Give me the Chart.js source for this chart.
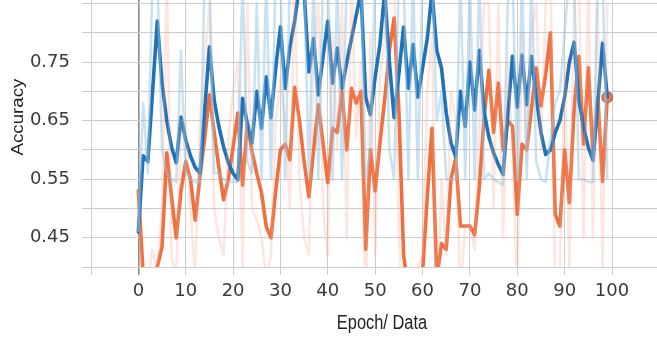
<!DOCTYPE html>
<html>
<head>
<meta charset="utf-8">
<script src="https://cdn.jsdelivr.net/npm/chart.js@4/dist/chart.umd.min.js"></script>
<style>
  html, body { margin: 0; padding: 0; background: #ffffff; }
  #wrap { width: 657px; height: 337px; position: relative; }
  canvas { display: block; }
</style>
</head>
<body>
<div id="wrap"><canvas id="c" width="657" height="337" style="width:657px;height:337px"></canvas></div>
<script>
// ---- data ----
const epochs = Array.from({ length: 100 }, (_, i) => i);

const xTickLabels = [0, 10, 20, 30, 40, 50, 60, 70, 80, 90, 100];
const yTickLabels = ['0.45', '0.55', '0.65', '0.75'];
const xTitle = 'Epoch/ Data';
const yTitle = 'Accuracy';

// smoothed (dark blue)
const blueSmooth = [
  0.46, 0.59, 0.58, 0.70, 0.82, 0.714, 0.65, 0.605, 0.578, 0.656,
  0.617, 0.59, 0.57, 0.56, 0.668, 0.776, 0.685, 0.64, 0.605, 0.578,
  0.56, 0.549, 0.688, 0.645, 0.612, 0.70, 0.637, 0.725, 0.655, 0.74,
  0.81, 0.705, 0.776, 0.82, 0.88, 0.87, 0.733, 0.79, 0.694, 0.76,
  0.82, 0.714, 0.774, 0.705, 0.75, 0.79, 0.83, 0.87, 0.69, 0.66,
  0.725, 0.78, 0.87, 0.75, 0.655, 0.73, 0.81, 0.705, 0.78, 0.69,
  0.74, 0.79, 0.87, 0.77, 0.74, 0.663, 0.612, 0.588, 0.70, 0.64,
  0.75, 0.668, 0.77, 0.665, 0.622, 0.595, 0.575, 0.558, 0.66, 0.76,
  0.673, 0.762, 0.677, 0.76, 0.69, 0.63, 0.592, 0.60, 0.629, 0.65,
  0.69, 0.75, 0.784, 0.685, 0.64, 0.604, 0.582, 0.68, 0.782, 0.69
];

// smoothed (orange)
const orangeSmooth = [
  0.53, 0.39, 0.385, 0.39, 0.40, 0.435, 0.595, 0.52, 0.45, 0.53,
  0.58, 0.55, 0.48, 0.554, 0.62, 0.694, 0.63, 0.57, 0.515, 0.55,
  0.605, 0.663, 0.54, 0.645, 0.597, 0.56, 0.527, 0.469, 0.45, 0.53,
  0.60, 0.61, 0.583, 0.707, 0.65, 0.58, 0.52, 0.60, 0.677, 0.61,
  0.544, 0.637, 0.63, 0.70, 0.60, 0.705, 0.68, 0.70, 0.43, 0.60,
  0.53, 0.612, 0.685, 0.77, 0.825, 0.668, 0.42, 0.36, 0.35, 0.37,
  0.39, 0.52, 0.637, 0.38, 0.44, 0.43, 0.55, 0.585, 0.47, 0.47,
  0.47, 0.455, 0.538, 0.656, 0.736, 0.63, 0.714, 0.60, 0.65, 0.64,
  0.49, 0.61, 0.60, 0.67, 0.74, 0.675, 0.73, 0.80, 0.49, 0.47,
  0.60, 0.51, 0.67, 0.76, 0.61, 0.74, 0.59, 0.69, 0.546, 0.69
];

// raw (faint blue)
const blueRaw = [
  0.46, 0.68, 0.56, 0.90, 0.90, 0.60, 0.56, 0.55, 0.545, 0.77,
  0.56, 0.55, 0.545, 0.545, 0.90, 0.90, 0.56, 0.56, 0.55, 0.545,
  0.545, 0.545, 0.90, 0.58, 0.56, 0.85, 0.55, 0.90, 0.55, 0.90,
  0.90, 0.55, 0.90, 0.90, 0.90, 0.90, 0.55, 0.90, 0.55, 0.90,
  0.90, 0.55, 0.90, 0.55, 0.90, 0.90, 0.90, 0.90, 0.55, 0.60,
  0.90, 0.90, 0.90, 0.60, 0.55, 0.90, 0.90, 0.55, 0.90, 0.55,
  0.90, 0.90, 0.90, 0.65, 0.70, 0.55, 0.55, 0.55, 0.90, 0.55,
  0.90, 0.55, 0.90, 0.55, 0.56, 0.55, 0.545, 0.54, 0.85, 0.90,
  0.55, 0.90, 0.55, 0.90, 0.58, 0.55, 0.545, 0.62, 0.68, 0.70,
  0.80, 0.90, 0.90, 0.55, 0.55, 0.545, 0.545, 0.90, 0.90, 0.55
];

// raw (faint orange)
const orangeRaw = [
  0.53, 0.30, 0.38, 0.43, 0.39, 0.50, 0.90, 0.42, 0.38, 0.65,
  0.65, 0.50, 0.38, 0.65, 0.75, 0.85, 0.50, 0.45, 0.42, 0.62,
  0.70, 0.75, 0.40, 0.85, 0.50, 0.48, 0.45, 0.38, 0.42, 0.65,
  0.72, 0.65, 0.50, 0.90, 0.55, 0.45, 0.42, 0.75, 0.85, 0.50,
  0.42, 0.80, 0.60, 0.85, 0.45, 0.90, 0.62, 0.75, 0.30, 0.80,
  0.42, 0.72, 0.80, 0.90, 0.90, 0.45, 0.30, 0.30, 0.33, 0.40,
  0.42, 0.70, 0.80, 0.30, 0.55, 0.42, 0.70, 0.65, 0.35, 0.47,
  0.47, 0.43, 0.65, 0.85, 0.85, 0.50, 0.85, 0.45, 0.75, 0.60,
  0.36, 0.80, 0.58, 0.80, 0.85, 0.60, 0.85, 0.90, 0.35, 0.40,
  0.75, 0.40, 0.85, 0.90, 0.45, 0.90, 0.45, 0.85, 0.40, 0.85
];

// ---- chart ----
const tickFont = { family: '"DejaVu Sans", sans-serif', size: 18 };
const tickColor = '#3a3a3a';
const gridColor = '#cdcdcd';

const axisTitles = {
  id: 'axisTitles',
  afterDraw(chart) {
    const c = chart.ctx;
    c.save();
    c.fillStyle = '#222222';
    c.textAlign = 'center';
    c.textBaseline = 'middle';
    c.save();
    c.translate(382, 323);
    c.scale(0.82, 1);
    c.font = '20px "Liberation Sans", Arial, sans-serif';
    c.fillText(xTitle, 0, 0);
    c.restore();
    c.translate(18, 117);
    c.rotate(-Math.PI / 2);
    c.scale(1.1, 1);
    c.font = '17px "Liberation Sans", Arial, sans-serif';
    c.fillText(yTitle, 0, 0);
    c.restore();
  }
};

const lastIdx = orangeSmooth.length - 1;

new Chart(document.getElementById('c'), {
  type: 'line',
  data: {
    labels: epochs,
    datasets: [
      {
        data: blueRaw, borderColor: 'rgba(150,195,228,0.5)', borderWidth: 2.5,
        pointRadius: 0, clip: 0, borderJoinStyle: 'round'
      },
      {
        data: orangeRaw, borderColor: 'rgba(246,165,140,0.28)', borderWidth: 2.5,
        pointRadius: 0, clip: 0, borderJoinStyle: 'round'
      },
      {
        data: blueSmooth, borderColor: '#1f72b6', borderWidth: 3.6,
        pointRadius: 0, clip: 0, borderJoinStyle: 'round', borderCapStyle: 'round'
      },
      {
        data: orangeSmooth, borderColor: '#ef6f3e', borderWidth: 3.6,
        pointRadius: orangeSmooth.map((v, i) => (i === lastIdx ? 5 : 0)),
        pointBackgroundColor: '#ef7a4e', pointBorderColor: '#c96a4e', pointBorderWidth: 2,
        clip: 0, borderJoinStyle: 'round', borderCapStyle: 'round'
      }
    ]
  },
  options: {
    responsive: false,
    animation: false,
    devicePixelRatio: 1,
    layout: { padding: 0, autoPadding: false },
    plugins: { legend: { display: false }, tooltip: { enabled: false } },
    elements: { line: { tension: 0 } },
    scales: {
      x: {
        type: 'linear',
        min: -10,
        max: 109.5,
        ticks: {
          stepSize: 10,
          includeBounds: false,
          autoSkip: false,
          maxRotation: 0,
          padding: 6,
          font: tickFont,
          color: tickColor,
          callback: (v) => (xTickLabels.includes(v) ? String(v) : '')
        },
        grid: {
          color: (ctx) => (ctx.tick && ctx.tick.value === 0 ? '#8c8c8c' : gridColor),
          lineWidth: (ctx) => (ctx.tick && ctx.tick.value === 0 ? 1.6 : 1),
          tickLength: 8
        },
        border: { color: gridColor },
        afterFit(s) { s.height = 70; s.paddingLeft = 0; s.paddingRight = 0; }
      },
      y: {
        min: 0.4,
        max: 0.856,
        ticks: {
          stepSize: 0.05,
          includeBounds: false,
          autoSkip: false,
          padding: 12,
          font: tickFont,
          color: tickColor,
          callback: (v) => {
            const s = Number(v).toFixed(2);
            return yTickLabels.includes(s) ? s : '';
          }
        },
        grid: { color: gridColor, tickLength: 9 },
        border: { color: gridColor },
        afterFit(s) { s.width = 91; s.paddingTop = 0; s.paddingBottom = 0; }
      }
    }
  },
  plugins: [axisTitles]
});
</script>
</body>
</html>
